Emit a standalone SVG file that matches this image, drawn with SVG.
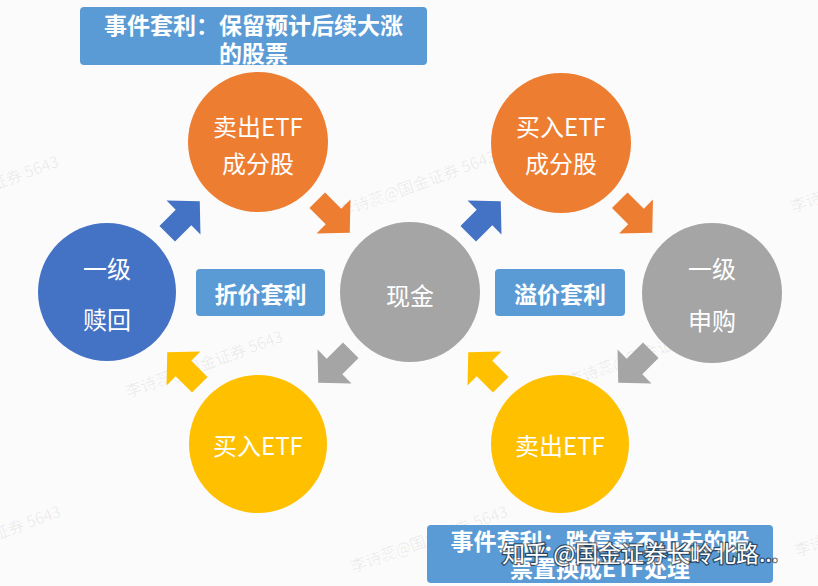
<svg xmlns="http://www.w3.org/2000/svg" width="818" height="586" viewBox="0 0 818 586">
<style>
text{font-family:"Noto Sans CJK SC","Noto Sans",sans-serif;}
.ct{fill:#fff;font-size:24px;text-anchor:middle;dominant-baseline:central;}
.lb{fill:#fff;font-size:23px;font-weight:bold;text-anchor:middle;dominant-baseline:central;}
.box{fill:#5B9BD5;}
.wm{fill:#000;fill-opacity:0.07;font-size:16px;}
</style>
<defs>
<path id="arr" d="M-23,-11 L0,-11 L0,-24 L23,0 L0,24 L0,11 L-23,11 Z"/>
</defs>
<rect width="818" height="586" fill="#FBFBFB"/>
<g id="watermarks">
<text class="wm" transform="translate(341,218) rotate(-20)">李诗蕊@国金证券 5643</text>
<text class="wm" transform="translate(128,398) rotate(-20)">李诗蕊@国金证券 5643</text>
<text class="wm" transform="translate(-96,223) rotate(-20)">李诗蕊@国金证券 5643</text>
<text class="wm" transform="translate(-94,573) rotate(-20)">李诗蕊@国金证券 5643</text>
<text class="wm" transform="translate(793,213) rotate(-20)">李诗蕊@国金证券 5643</text>
<text class="wm" transform="translate(570,387) rotate(-20)">李诗蕊@国金证券 5643</text>
<text class="wm" transform="translate(353,573) rotate(-20)">李诗蕊@国金证券 5643</text>
<text class="wm" transform="translate(797,557) rotate(-20)">李诗蕊@国金证券 5643</text>
</g>
<g id="connectors">
<use href="#arr" fill="#4472C4" transform="translate(183.5,217.5) rotate(-45)"/>
<use href="#arr" fill="#ED7D31" transform="translate(333.5,216.5) rotate(45)"/>
<use href="#arr" fill="#A5A5A5" transform="translate(334.5,366.5) rotate(135)"/>
<use href="#arr" fill="#FFC000" transform="translate(183.5,368.5) rotate(-135)"/>
<use href="#arr" fill="#4472C4" transform="translate(484.5,217.5) rotate(-45)"/>
<use href="#arr" fill="#ED7D31" transform="translate(636,216.5) rotate(45)"/>
<use href="#arr" fill="#A5A5A5" transform="translate(634.5,366.5) rotate(135)"/>
<use href="#arr" fill="#FFC000" transform="translate(484.5,368.5) rotate(-135)"/>
</g>
<g id="node-redeem">
<circle cx="107" cy="292" r="69" fill="#4472C4"/>
<text class="ct" x="107" y="267">一级</text>
<text class="ct" x="107" y="318">赎回</text>
</g>
<g id="node-sell-components">
<circle cx="258" cy="142" r="70" fill="#ED7D31"/>
<text class="ct" x="258" y="125">卖出ETF</text>
<text class="ct" x="258" y="162">成分股</text>
</g>
<g id="node-cash">
<circle cx="410" cy="292" r="70" fill="#A5A5A5"/>
<text class="ct" x="410" y="294">现金</text>
</g>
<g id="node-buy-etf">
<circle cx="258" cy="444" r="69" fill="#FFC000"/>
<text class="ct" x="258" y="444">买入ETF</text>
</g>
<g id="node-buy-components">
<circle cx="561" cy="143" r="70" fill="#ED7D31"/>
<text class="ct" x="561" y="125">买入ETF</text>
<text class="ct" x="561" y="162">成分股</text>
</g>
<g id="node-subscribe">
<circle cx="712" cy="293" r="70" fill="#A5A5A5"/>
<text class="ct" x="712" y="267">一级</text>
<text class="ct" x="712" y="319">申购</text>
</g>
<g id="node-sell-etf">
<circle cx="560" cy="444" r="69" fill="#FFC000"/>
<text class="ct" x="560" y="444">卖出ETF</text>
</g>
<g id="label-discount">
<rect class="box" x="196" y="269" width="129" height="47" rx="4"/>
<text class="lb" x="260.5" y="293">折价套利</text>
</g>
<g id="label-premium">
<rect class="box" x="495" y="269" width="130" height="47" rx="4"/>
<text class="lb" x="560" y="293">溢价套利</text>
</g>
<g id="label-event-top">
<rect class="box" x="80" y="7" width="347" height="58" rx="4"/>
<text class="lb" x="253.5" y="24">事件套利：保留预计后续大涨</text>
<text class="lb" x="253.5" y="52">的股票</text>
</g>
<g id="label-event-bottom">
<rect class="box" x="427" y="525" width="346" height="58" rx="4"/>
<text class="lb" x="600" y="540">事件套利：跌停卖不出去的股</text>
<text class="lb" x="600" y="567">票置换成ETF处理</text>
</g>
<text x="502" y="552" font-size="23" fill="#fff" stroke="#000" stroke-opacity="0.55" stroke-width="2.5" paint-order="stroke" dominant-baseline="central">知乎 @国金证券长岭北路...</text>
</svg>
